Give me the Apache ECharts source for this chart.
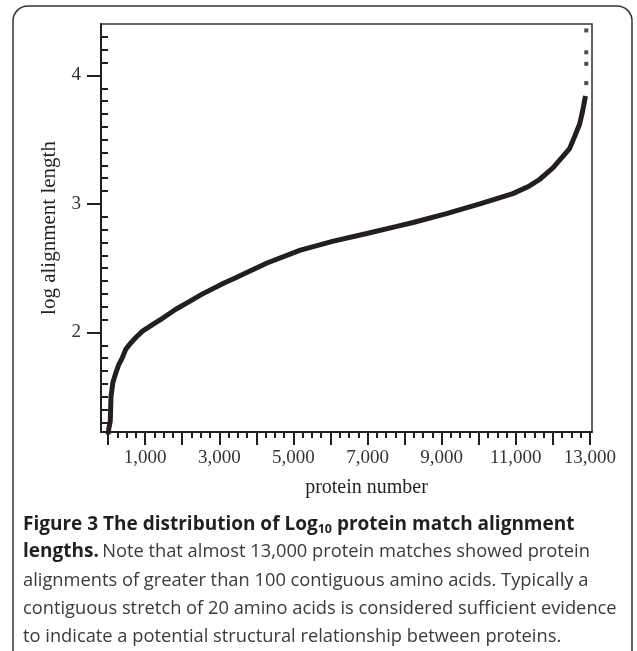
<!DOCTYPE html>
<html>
<head>
<meta charset="utf-8">
<script src="https://cdn.jsdelivr.net/npm/echarts@6/dist/echarts.min.js"></script>
<style>
  html, body { margin: 0; padding: 0; background: #fff; }
  #chart { width: 637px; height: 651px; }
</style>
</head>
<body>
<div id="chart"></div>
<script>
// sorted protein matches -> log10 alignment length
var proteinNumber = [0, 20, 60, 80, 130, 215, 290, 380, 480, 620, 750, 930, 1200, 1470, 1830, 2190, 2550, 3130, 3400, 4290, 5190, 6080, 6980, 7790, 8230, 9130, 10030, 10920, 11370, 11640, 12000, 12270, 12450, 12580, 12720, 12800, 12880];
var logLength = [1.2, 1.25, 1.31, 1.50, 1.61, 1.69, 1.75, 1.80, 1.87, 1.92, 1.96, 2.01, 2.06, 2.11, 2.18, 2.24, 2.30, 2.385, 2.42, 2.54, 2.64, 2.71, 2.77, 2.825, 2.855, 2.925, 3.0, 3.08, 3.14, 3.19, 3.28, 3.37, 3.43, 3.52, 3.62, 3.72, 3.84];
// the few longest matches, drawn as separate dots
var outlierNumber = [12900, 12900, 12900, 12900];
var outlierLength = [3.94, 4.09, 4.18, 4.35];

// tick positions
var xMajorTicks = [0, 1000, 2000, 3000, 4000, 5000, 6000, 7000, 8000, 9000, 10000, 11000, 12000, 13000];
var xLabels = [1000, 3000, 5000, 7000, 9000, 11000, 13000];
var yMajorTicks = [2, 3, 4];
var yLabels = [2, 3, 4];

var xMinorTicks = [];
for (var i = 250; i < 13000; i += 250) {
  if (i % 1000 !== 0) xMinorTicks.push(i);
}
var yMinorTicks = [];
for (var k = 13; k <= 43; k++) {
  if (k % 10 !== 0) yMinorTicks.push(k / 10);
}

var curve = proteinNumber.map(function (p, i) { return [p, logLength[i]]; });
var dots = outlierNumber.map(function (p, i) { return [p, outlierLength[i]]; });

function thousands(v) {
  return String(v).replace(/\B(?=(\d{3})+(?!\d))/g, ",");
}

var ink = "#231f20";
var serif = "'Liberation Serif', 'DejaVu Serif', serif";
var sans = "'Open Sans', Lato, 'Noto Sans', sans-serif";

var myChart = echarts.init(document.getElementById("chart"));

var xRange = { min: -190, max: 13055 };
var yRange = { min: 1.225, max: 4.4 };

var option = {
  backgroundColor: "#fff",
  animation: false,
  grid: {
    left: 101,
    right: 45,
    top: 24,
    bottom: 219,
    show: true,
    borderColor: "#333",
    borderWidth: 1.5
  },
  xAxis: [
    {
      type: "value",
      min: xRange.min,
      max: xRange.max,
      name: "protein number",
      nameLocation: "middle",
      nameGap: 46,
      nameTextStyle: { fontFamily: serif, fontSize: 20, color: ink, padding: [0, 0, 0, 40] },
      axisLine: { show: true, onZero: false, lineStyle: { color: ink, width: 2 } },
      axisTick: { show: true, inside: false, length: 13, lineStyle: { color: ink, width: 2 }, customValues: xMajorTicks },
      axisLabel: { margin: 17, fontFamily: serif, fontSize: 19, color: "#333", customValues: xLabels, formatter: thousands },
      splitLine: { show: false }
    },
    {
      type: "value",
      position: "bottom",
      min: xRange.min,
      max: xRange.max,
      axisLine: { show: false },
      axisTick: { show: true, length: 6, lineStyle: { color: ink, width: 2 }, customValues: xMinorTicks },
      axisLabel: { show: false },
      splitLine: { show: false }
    }
  ],
  yAxis: [
    {
      type: "value",
      min: yRange.min,
      max: yRange.max,
      name: "log alignment length",
      nameLocation: "middle",
      nameGap: 41,
      nameTextStyle: { fontFamily: serif, fontSize: 21, color: ink },
      axisLine: { show: true, onZero: false, lineStyle: { color: ink, width: 2 } },
      axisTick: { show: true, length: 14, lineStyle: { color: ink, width: 2 }, customValues: yMajorTicks },
      axisLabel: { margin: 20, fontFamily: serif, fontSize: 19, color: "#333", customValues: yLabels },
      splitLine: { show: false }
    },
    {
      type: "value",
      position: "left",
      min: yRange.min,
      max: yRange.max,
      axisLine: { show: false },
      axisTick: { show: true, length: 7, lineStyle: { color: ink, width: 2 }, customValues: yMinorTicks },
      axisLabel: { show: false },
      splitLine: { show: false }
    }
  ],
  series: [
    {
      type: "line",
      data: curve,
      showSymbol: false,
      smooth: false,
      lineStyle: { color: ink, width: 5 },
      clip: true
    },
    {
      type: "scatter",
      data: dots,
      symbol: "rect",
      symbolSize: 4,
      itemStyle: { color: ink }
    }
  ],
  graphic: [
    {
      type: "rect",
      shape: { x: 13, y: 6, width: 619, height: 660, r: 15 },
      style: { fill: "none", stroke: "#333", lineWidth: 1.5 },
      silent: true
    },
    {
      type: "text",
      left: 23,
      top: 514,
      style: {
        text: "{b|Figure 3 The distribution of Log}{s|10}{b| protein match alignment}",
        rich: {
          b: { fontFamily: sans, fontSize: 19, fontWeight: "bold", fill: ink, lineHeight: 25 },
          s: { fontFamily: sans, fontSize: 12.5, fontWeight: "bold", fill: ink, lineHeight: 25, padding: [9, 0, 0, 0] }
        }
      }
    },
    {
      type: "text",
      left: 23,
      top: 542,
      style: {
        text: "{b|lengths.} {r|Note that almost 13,000 protein matches showed protein}",
        rich: {
          b: { fontFamily: sans, fontSize: 19, fontWeight: "bold", fill: ink, lineHeight: 25 },
          r: { fontFamily: sans, fontSize: 18.3, fill: "#3a3a3a", lineHeight: 25 }
        }
      }
    },
    {
      type: "text",
      left: 23,
      top: 572,
      style: { text: "alignments of greater than 100 contiguous amino acids. Typically a", font: "18.3px " + sans, fill: "#3a3a3a" }
    },
    {
      type: "text",
      left: 23,
      top: 600,
      style: { text: "contiguous stretch of 20 amino acids is considered sufficient evidence", font: "18.3px " + sans, fill: "#3a3a3a" }
    },
    {
      type: "text",
      left: 23,
      top: 628,
      style: { text: "to indicate a potential structural relationship between proteins.", font: "18.3px " + sans, fill: "#3a3a3a" }
    }
  ]
};

myChart.setOption(option);
</script>
</body>
</html>
